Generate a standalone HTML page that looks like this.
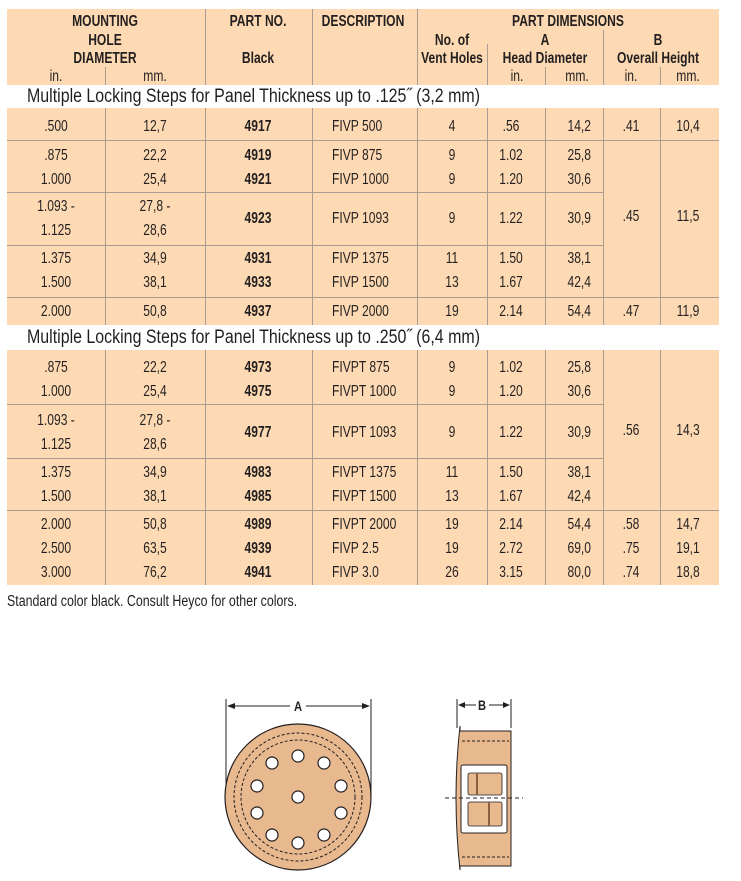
<!DOCTYPE html>
<html><head><meta charset="utf-8"><style>
body{margin:0;background:#fff;width:741px;height:881px;position:relative;overflow:hidden;font-family:"Liberation Sans",sans-serif;color:#231f20}
.t{position:absolute;margin-top:1px;font-size:15.5px;line-height:16px;white-space:nowrap;transform:translate(-50%,-50%) scaleX(.78);transform-origin:50% 50%}
.l{transform:translate(0,-50%) scaleX(.78);transform-origin:0 50%}
.r{transform:translate(-100%,-50%) scaleX(.78);transform-origin:100% 50%}
.f{transform:translate(0,-50%) scaleX(.8);transform-origin:0 50%}
.b{font-weight:bold}
.bg{position:absolute;background:#fddab3}
.h{position:absolute;height:1px;background:#a89c90}
.v{position:absolute;width:1px;background:#a89c90}
.s{position:absolute;left:27px;font-size:19px;line-height:20px;transform:translate(0,-50%) scaleX(.84);transform-origin:0 50%;white-space:nowrap}
</style></head><body>
<div class="bg" style="left:7px;top:9px;width:712px;height:76px"></div>
<div class="bg" style="left:7px;top:108px;width:712px;height:217px"></div>
<div class="bg" style="left:7px;top:350px;width:712px;height:235px"></div>
<div class="v" style="left:205px;top:9px;height:76px"></div>
<div class="v" style="left:312px;top:9px;height:76px"></div>
<div class="v" style="left:417px;top:9px;height:76px"></div>
<div class="v" style="left:105px;top:67px;height:18px"></div>
<div class="v" style="left:487px;top:44px;height:41px"></div>
<div class="v" style="left:545px;top:67px;height:18px"></div>
<div class="v" style="left:603px;top:30px;height:55px"></div>
<div class="v" style="left:660px;top:67px;height:18px"></div>
<div class="t b" style="left:105px;top:21px">MOUNTING</div>
<div class="t b" style="left:105px;top:40px">HOLE</div>
<div class="t b" style="left:105px;top:58px">DIAMETER</div>
<div class="t" style="left:56px;top:76px">in.</div>
<div class="t" style="left:155px;top:76px">mm.</div>
<div class="t b" style="left:258px;top:21px">PART NO.</div>
<div class="t b" style="left:258px;top:58px">Black</div>
<div class="t b" style="left:363px;top:21px">DESCRIPTION</div>
<div class="t b" style="left:568px;top:21px">PART DIMENSIONS</div>
<div class="t b" style="left:452px;top:40px">No. of</div>
<div class="t b" style="left:452px;top:58px">Vent Holes</div>
<div class="t b" style="left:545px;top:40px">A</div>
<div class="t b" style="left:545px;top:58px">Head Diameter</div>
<div class="t b" style="left:658px;top:40px">B</div>
<div class="t b" style="left:658px;top:58px">Overall Height</div>
<div class="t" style="left:517px;top:76px">in.</div>
<div class="t" style="left:577px;top:76px">mm.</div>
<div class="t" style="left:631px;top:76px">in.</div>
<div class="t" style="left:688px;top:76px">mm.</div>
<div class="s" style="top:97px">Multiple Locking Steps for Panel Thickness up to .125˝ (3,2 mm)</div>
<div class="s" style="top:338px">Multiple Locking Steps for Panel Thickness up to .250˝ (6,4 mm)</div>
<div class="v" style="left:105px;top:108px;height:217px"></div>
<div class="v" style="left:205px;top:108px;height:217px"></div>
<div class="v" style="left:312px;top:108px;height:217px"></div>
<div class="v" style="left:417px;top:108px;height:217px"></div>
<div class="v" style="left:487px;top:108px;height:217px"></div>
<div class="v" style="left:545px;top:108px;height:217px"></div>
<div class="v" style="left:603px;top:108px;height:217px"></div>
<div class="v" style="left:660px;top:108px;height:217px"></div>
<div class="h" style="left:7px;top:140px;width:712px"></div>
<div class="h" style="left:7px;top:192px;width:596px"></div>
<div class="h" style="left:7px;top:245px;width:596px"></div>
<div class="h" style="left:7px;top:297px;width:712px"></div>
<div class="v" style="left:105px;top:350px;height:235px"></div>
<div class="v" style="left:205px;top:350px;height:235px"></div>
<div class="v" style="left:312px;top:350px;height:235px"></div>
<div class="v" style="left:417px;top:350px;height:235px"></div>
<div class="v" style="left:487px;top:350px;height:235px"></div>
<div class="v" style="left:545px;top:350px;height:235px"></div>
<div class="v" style="left:603px;top:350px;height:235px"></div>
<div class="v" style="left:660px;top:350px;height:235px"></div>
<div class="h" style="left:7px;top:404px;width:596px"></div>
<div class="h" style="left:7px;top:458px;width:596px"></div>
<div class="h" style="left:7px;top:510px;width:712px"></div>

<div class="t" style="left:56px;top:126px">.500</div><div class="t" style="left:155px;top:126px">12,7</div><div class="t b" style="left:258px;top:126px">4917</div><div class="t l" style="left:332px;top:126px">FIVP 500</div><div class="t" style="left:452px;top:126px">4</div><div class="t" style="left:511px;top:126px">.56</div><div class="t r" style="left:591px;top:126px">14,2</div><div class="t" style="left:631px;top:126px">.41</div><div class="t" style="left:688px;top:126px">10,4</div>

<div class="t" style="left:56px;top:155px">.875</div><div class="t" style="left:155px;top:155px">22,2</div><div class="t b" style="left:258px;top:155px">4919</div><div class="t l" style="left:332px;top:155px">FIVP 875</div><div class="t" style="left:452px;top:155px">9</div><div class="t" style="left:511px;top:155px">1.02</div><div class="t r" style="left:591px;top:155px">25,8</div>
<div class="t" style="left:56px;top:179px">1.000</div><div class="t" style="left:155px;top:179px">25,4</div><div class="t b" style="left:258px;top:179px">4921</div><div class="t l" style="left:332px;top:179px">FIVP 1000</div><div class="t" style="left:452px;top:179px">9</div><div class="t" style="left:511px;top:179px">1.20</div><div class="t r" style="left:591px;top:179px">30,6</div>

<div class="t" style="left:56px;top:206px">1.093 -</div><div class="t" style="left:155px;top:206px">27,8 -</div>
<div class="t" style="left:56px;top:230px">1.125</div><div class="t" style="left:155px;top:230px">28,6</div>
<div class="t b" style="left:258px;top:218px">4923</div><div class="t l" style="left:332px;top:218px">FIVP 1093</div><div class="t" style="left:452px;top:218px">9</div><div class="t" style="left:511px;top:218px">1.22</div><div class="t r" style="left:591px;top:218px">30,9</div>
<div class="t" style="left:631px;top:216px">.45</div><div class="t" style="left:688px;top:216px">11,5</div>

<div class="t" style="left:56px;top:258px">1.375</div><div class="t" style="left:155px;top:258px">34,9</div><div class="t b" style="left:258px;top:258px">4931</div><div class="t l" style="left:332px;top:258px">FIVP 1375</div><div class="t" style="left:452px;top:258px">11</div><div class="t" style="left:511px;top:258px">1.50</div><div class="t r" style="left:591px;top:258px">38,1</div>
<div class="t" style="left:56px;top:282px">1.500</div><div class="t" style="left:155px;top:282px">38,1</div><div class="t b" style="left:258px;top:282px">4933</div><div class="t l" style="left:332px;top:282px">FIVP 1500</div><div class="t" style="left:452px;top:282px">13</div><div class="t" style="left:511px;top:282px">1.67</div><div class="t r" style="left:591px;top:282px">42,4</div>

<div class="t" style="left:56px;top:311px">2.000</div><div class="t" style="left:155px;top:311px">50,8</div><div class="t b" style="left:258px;top:311px">4937</div><div class="t l" style="left:332px;top:311px">FIVP 2000</div><div class="t" style="left:452px;top:311px">19</div><div class="t" style="left:511px;top:311px">2.14</div><div class="t r" style="left:591px;top:311px">54,4</div><div class="t" style="left:631px;top:311px">.47</div><div class="t" style="left:688px;top:311px">11,9</div>

<div class="t" style="left:56px;top:367px">.875</div><div class="t" style="left:155px;top:367px">22,2</div><div class="t b" style="left:258px;top:367px">4973</div><div class="t l" style="left:332px;top:367px">FIVPT 875</div><div class="t" style="left:452px;top:367px">9</div><div class="t" style="left:511px;top:367px">1.02</div><div class="t r" style="left:591px;top:367px">25,8</div>
<div class="t" style="left:56px;top:391px">1.000</div><div class="t" style="left:155px;top:391px">25,4</div><div class="t b" style="left:258px;top:391px">4975</div><div class="t l" style="left:332px;top:391px">FIVPT 1000</div><div class="t" style="left:452px;top:391px">9</div><div class="t" style="left:511px;top:391px">1.20</div><div class="t r" style="left:591px;top:391px">30,6</div>

<div class="t" style="left:56px;top:420px">1.093 -</div><div class="t" style="left:155px;top:420px">27,8 -</div>
<div class="t" style="left:56px;top:444px">1.125</div><div class="t" style="left:155px;top:444px">28,6</div>
<div class="t b" style="left:258px;top:432px">4977</div><div class="t l" style="left:332px;top:432px">FIVPT 1093</div><div class="t" style="left:452px;top:432px">9</div><div class="t" style="left:511px;top:432px">1.22</div><div class="t r" style="left:591px;top:432px">30,9</div>
<div class="t" style="left:631px;top:430px">.56</div><div class="t" style="left:688px;top:430px">14,3</div>

<div class="t" style="left:56px;top:472px">1.375</div><div class="t" style="left:155px;top:472px">34,9</div><div class="t b" style="left:258px;top:472px">4983</div><div class="t l" style="left:332px;top:472px">FIVPT 1375</div><div class="t" style="left:452px;top:472px">11</div><div class="t" style="left:511px;top:472px">1.50</div><div class="t r" style="left:591px;top:472px">38,1</div>
<div class="t" style="left:56px;top:496px">1.500</div><div class="t" style="left:155px;top:496px">38,1</div><div class="t b" style="left:258px;top:496px">4985</div><div class="t l" style="left:332px;top:496px">FIVPT 1500</div><div class="t" style="left:452px;top:496px">13</div><div class="t" style="left:511px;top:496px">1.67</div><div class="t r" style="left:591px;top:496px">42,4</div>

<div class="t" style="left:56px;top:524px">2.000</div><div class="t" style="left:155px;top:524px">50,8</div><div class="t b" style="left:258px;top:524px">4989</div><div class="t l" style="left:332px;top:524px">FIVPT 2000</div><div class="t" style="left:452px;top:524px">19</div><div class="t" style="left:511px;top:524px">2.14</div><div class="t r" style="left:591px;top:524px">54,4</div><div class="t" style="left:631px;top:524px">.58</div><div class="t" style="left:688px;top:524px">14,7</div>
<div class="t" style="left:56px;top:548px">2.500</div><div class="t" style="left:155px;top:548px">63,5</div><div class="t b" style="left:258px;top:548px">4939</div><div class="t l" style="left:332px;top:548px">FIVP 2.5</div><div class="t" style="left:452px;top:548px">19</div><div class="t" style="left:511px;top:548px">2.72</div><div class="t r" style="left:591px;top:548px">69,0</div><div class="t" style="left:631px;top:548px">.75</div><div class="t" style="left:688px;top:548px">19,1</div>
<div class="t" style="left:56px;top:572px">3.000</div><div class="t" style="left:155px;top:572px">76,2</div><div class="t b" style="left:258px;top:572px">4941</div><div class="t l" style="left:332px;top:572px">FIVP 3.0</div><div class="t" style="left:452px;top:572px">26</div><div class="t" style="left:511px;top:572px">3.15</div><div class="t r" style="left:591px;top:572px">80,0</div><div class="t" style="left:631px;top:572px">.74</div><div class="t" style="left:688px;top:572px">18,8</div>

<div class="t f" style="left:7px;top:601px">Standard color black. Consult Heyco for other colors.</div>

<svg style="position:absolute;left:0;top:0" width="741" height="881">
 <g stroke="#231f20" fill="none" stroke-width="1">
  <line x1="226" y1="699" x2="226" y2="797"/><line x1="371" y1="699" x2="371" y2="797"/>
  <line x1="228" y1="706" x2="290" y2="706"/><line x1="306" y1="706" x2="369" y2="706"/>
  <line x1="457" y1="699" x2="457" y2="728"/><line x1="511" y1="699" x2="511" y2="728"/>
  <line x1="459" y1="705" x2="476" y2="705"/><line x1="489" y1="705" x2="509" y2="705"/>
 </g>
 <g fill="#231f20">
  <polygon points="227,706 235,703 235,709"/><polygon points="370,706 362,703 362,709"/>
  <polygon points="458,705 465,702 465,708"/><polygon points="510,705 503,702 503,708"/>
 </g>
 <text x="298" y="711" font-family="Liberation Sans,sans-serif" font-weight="bold" font-size="14" text-anchor="middle" fill="#231f20" transform="translate(298 0) scale(.8 1) translate(-298 0)">A</text>
 <text x="482" y="710" font-family="Liberation Sans,sans-serif" font-weight="bold" font-size="14" text-anchor="middle" fill="#231f20" transform="translate(482 0) scale(.8 1) translate(-482 0)">B</text>
 <circle cx="298" cy="797" r="73" fill="#e8b88e" stroke="#231f20" stroke-width="1.2"/>
 <circle cx="298" cy="797" r="64" fill="none" stroke="#231f20" stroke-dasharray="3,2"/>
 <circle cx="298" cy="797" r="57" fill="none" stroke="#231f20" stroke-dasharray="3,2"/>
 <g fill="#fff" stroke="#231f20" stroke-width="1.2">
  <circle cx="298" cy="797" r="6"/><circle cx="298" cy="756" r="6"/><circle cx="298" cy="843" r="6"/>
  <circle cx="272" cy="763" r="6"/><circle cx="324" cy="763" r="6"/><circle cx="257" cy="786" r="6"/><circle cx="341" cy="786" r="6"/>
  <circle cx="257" cy="813" r="6"/><circle cx="341" cy="813" r="6"/><circle cx="272" cy="835" r="6"/><circle cx="324" cy="835" r="6"/>
 </g>
 <path d="M460,726 Q452,797 460,870 L460,866 L511,866 L511,731 L460,731 Z" fill="#e8b88e" stroke="#231f20"/>
 <g stroke="#231f20" stroke-dasharray="3,2"><line x1="462" y1="741" x2="509" y2="741"/><line x1="462" y1="857" x2="509" y2="857"/></g>
 <rect x="461" y="765" width="46" height="68" rx="2" fill="#fff" stroke="#231f20"/>
 <rect x="468" y="773" width="34" height="22" rx="2" fill="#e8b88e" stroke="#231f20" stroke-width=".8"/>
 <rect x="468" y="802" width="34" height="24" rx="2" fill="#e8b88e" stroke="#231f20" stroke-width=".8"/>
 <line x1="477" y1="773" x2="477" y2="795" stroke="#8a6040" stroke-width="2"/>
 <line x1="489" y1="802" x2="489" y2="826" stroke="#8a6040" stroke-width="2"/>
 <line x1="445" y1="798" x2="523" y2="798" stroke="#231f20" stroke-dasharray="4,3"/>
</svg>
</body></html>
